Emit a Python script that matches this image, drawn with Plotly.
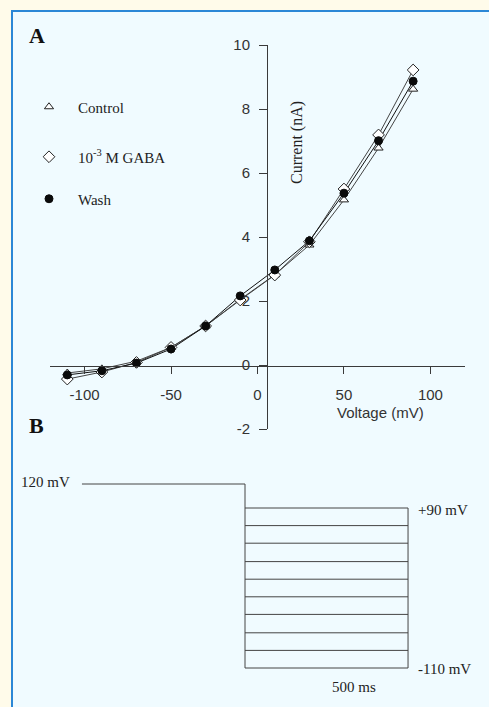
import plotly.graph_objects as go

W, H = 489, 707

# ---- Panel A data (I-V relationship) ----
voltage_mv = [-110, -90, -70, -50, -30, -10, 10, 30, 50, 70, 90]
control_na = [-0.25, -0.12, 0.12, 0.55, 1.22, 2.05, 2.82, 3.75, 5.16, 6.78, 8.62]
gaba_na = [-0.44, -0.22, 0.08, 0.55, 1.22, 2.03, 2.81, 3.85, 5.50, 7.19, 9.22]
wash_na = [-0.31, -0.18, 0.06, 0.50, 1.22, 2.16, 2.97, 3.88, 5.37, 7.01, 8.87]

x_ticks = [-100, -50, 0, 50, 100]
y_ticks = [-2, 0, 2, 4, 6, 8, 10]

# ---- Panel B data (voltage protocol schematic) ----
holding_mv = 120
holding_time_ms = [-500, 0]
step_time_ms = [0, 500]
step_levels_mv = [90, 68, 46, 23, 1, -21, -43, -66, -88, -110]

AX = "#3a3a3a"
SERIF = "Liberation Serif"
SANS = "Liberation Sans"


def px(x):
    return x / W


def py(y):
    return (H - y) / H


fig = go.Figure()

series = [
    ("Control", control_na, dict(symbol="triangle-up", size=8, color="white",
                                 line=dict(color="#222", width=1)), "#444", "legend"),
    ("10<sup>-3</sup> M GABA", gaba_na, dict(symbol="diamond", size=9, color="white",
                                             line=dict(color="#222", width=1)), "#444", "legend2"),
    ("Wash", wash_na, dict(symbol="circle", size=8, color="#0a0a0a",
                           line=dict(color="#0a0a0a", width=1)), "#111", "legend3"),
]
# lines first
for name, ys, mk, lc, lg in series:
    fig.add_trace(go.Scatter(x=voltage_mv, y=ys, mode="lines", line=dict(color=lc, width=1),
                             showlegend=False, hoverinfo="skip", cliponaxis=False))
# markers (with legend entries)
for name, ys, mk, lc, lg in series:
    fig.add_trace(go.Scatter(x=voltage_mv, y=ys, mode="markers", name=name, marker=mk,
                             legend=lg, cliponaxis=False))

# Panel B protocol lines
bx, by = [], []
bx += holding_time_ms + [None]
by += [holding_mv, holding_mv, None]
bx += [step_time_ms[0], step_time_ms[0], None]
by += [holding_mv, step_levels_mv[-1], None]
for lvl in step_levels_mv:
    bx += step_time_ms + [None]
    by += [lvl, lvl, None]
bx += [step_time_ms[1], step_time_ms[1]]
by += [step_levels_mv[0], step_levels_mv[-1]]
fig.add_trace(go.Scatter(x=bx, y=by, mode="lines", line=dict(color="#444", width=1),
                         xaxis="x2", yaxis="y2", showlegend=False, hoverinfo="skip"))

# Panel A axes geometry
x_left, x_right = 50, 465
y_top, y_bot = 45, 429
zero_y_px = 366
yaxis_x_px = 267

legend_common = dict(font=dict(family=SERIF, size=15, color="#222"), bgcolor="rgba(0,0,0,0)",
                     xanchor="left", yanchor="middle", itemwidth=48, borderwidth=0)

fig.update_layout(
    width=W, height=H, margin=dict(l=0, r=0, t=0, b=0, autoexpand=False),
    paper_bgcolor="#fffbea", plot_bgcolor="rgba(0,0,0,0)",
    xaxis=dict(domain=[px(x_left), px(x_right)], range=[-120, 120], anchor="free",
               position=py(zero_y_px), showline=True, linecolor=AX, linewidth=1,
               ticks="outside", ticklen=7, tickcolor=AX, tickwidth=1,
               tickvals=x_ticks, ticktext=[str(v) for v in x_ticks],
               tickfont=dict(family=SANS, size=15, color="#333"), ticklabelstandoff=8,
               showgrid=False, zeroline=False),
    yaxis=dict(domain=[py(y_bot), py(y_top)], range=[-2, 10], anchor="free",
               position=px(yaxis_x_px), showline=True, linecolor=AX, linewidth=1,
               ticks="outside", ticklen=8, tickcolor=AX, tickwidth=1,
               tickvals=y_ticks, ticktext=[str(v) for v in y_ticks],
               tickfont=dict(family=SANS, size=15, color="#333"), ticklabelstandoff=6,
               showgrid=False, zeroline=False),
    xaxis2=dict(domain=[px(78.7), px(411.3)], range=[-510, 510], anchor="y2",
                visible=False),
    yaxis2=dict(domain=[py(672), py(480)], range=[-115, 125], anchor="x2",
                visible=False),
    legend=dict(x=px(20), y=py(107), **legend_common),
    legend2=dict(x=px(20), y=py(157), **legend_common),
    legend3=dict(x=px(20), y=py(199), **legend_common),
    shapes=[
        dict(type="rect", xref="paper", yref="paper", x0=px(12), x1=1.05, y0=-0.05, y1=py(11),
             line=dict(color="#2b87d6", width=2), fillcolor="#f0fbff", layer="below"),
    ],
)

ann = []
ann.append(dict(text="<b>A</b>", x=px(27), y=py(36), xanchor="left", yanchor="middle",
                font=dict(family=SERIF, size=22, color="#111")))
ann.append(dict(text="<b>B</b>", x=px(27), y=py(425), xanchor="left", yanchor="middle",
                font=dict(family=SERIF, size=22, color="#111")))
ann.append(dict(text="Current (nA)", x=px(297), y=py(143), textangle=-90, xanchor="center",
                yanchor="middle", font=dict(family=SERIF, size=16, color="#222")))
ann.append(dict(text="Voltage (mV)", x=px(380), y=py(412), xanchor="center", yanchor="middle",
                font=dict(family=SANS, size=15, color="#333")))
ann.append(dict(text="120 mV", x=px(19), y=py(482), xanchor="left", yanchor="middle",
                font=dict(family=SERIF, size=15, color="#222")))
ann.append(dict(text="+90 mV", x=px(416), y=py(510), xanchor="left", yanchor="middle",
                font=dict(family=SERIF, size=15, color="#222")))
ann.append(dict(text="-110 mV", x=px(416), y=py(669), xanchor="left", yanchor="middle",
                font=dict(family=SERIF, size=15, color="#222")))
ann.append(dict(text="500 ms", x=px(354), y=py(687), xanchor="center", yanchor="middle",
                font=dict(family=SERIF, size=15, color="#222")))
for a in ann:
    a.update(xref="paper", yref="paper", showarrow=False)
fig.update_layout(annotations=ann)

fig.write_html(
    "out.html",
    config={"displayModeBar": False},
    post_script="document.body.style.margin='0';document.body.style.background='#fffbea';",
)
